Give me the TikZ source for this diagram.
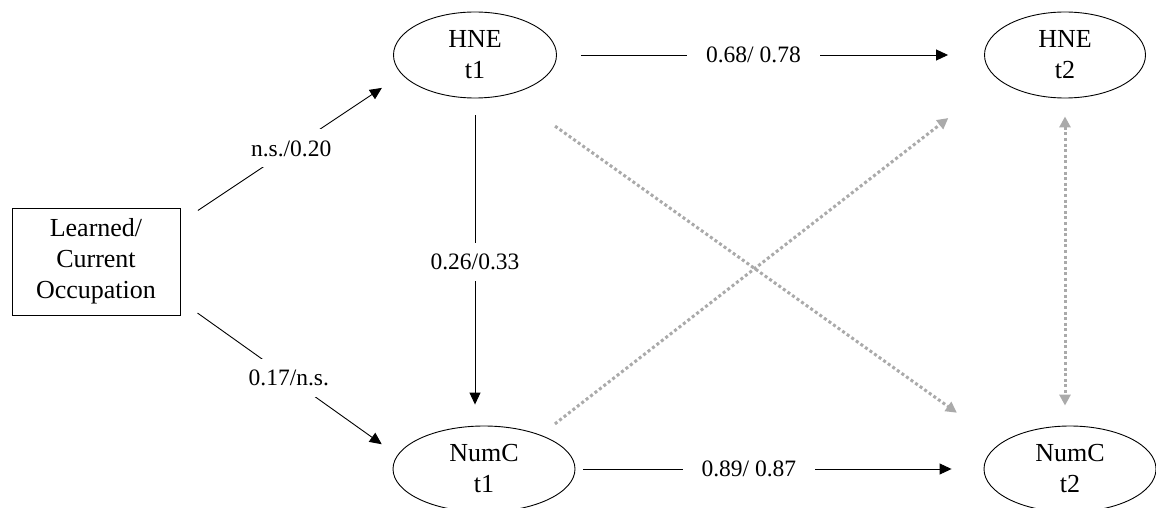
\documentclass[tikz,border=0pt]{standalone}
\usepackage{fontspec}
\setmainfont{Liberation Serif}
\usetikzlibrary{arrows.meta,shapes.geometric,calc}
\definecolor{dotgray}{RGB}{170,170,170}
\newcommand{\varfont}{\fontsize{26}{31}\selectfont}
\newcommand{\coeffont}{\fontsize{23.5}{28}\selectfont}

\begin{document}
\begin{tikzpicture}[x=1pt,y=-1pt,
    latent/.style={
      ellipse,
      draw,
      line width=0.9pt,
      inner sep=0pt,
      minimum height=86pt,
      align=center,
      font=\varfont},
    manifest/.style={
      rectangle,
      draw,
      line width=0.9pt,
      minimum width=168pt,
      minimum height=107pt,
      inner sep=0pt,
      align=center,
      font=\varfont},
    effect/.style={line width=0.9pt, -{Triangle[length=12pt,width=11pt]}},
    lagged/.style={
      draw=dotgray,
      line width=3pt,
      dash pattern=on 3pt off 2.6pt,
      -{Triangle[length=11pt,width=11pt]}},
    coef/.style={fill=white, inner xsep=19pt, inner ysep=11pt, font=\coeffont}
  ]
  \useasboundingbox (0,0) rectangle (1156,508);
  \node[manifest] (O) at (96,261.5) {Learned/\\Current\\Occupation};
  \node[latent,minimum width=163pt] (H1) at (475,55) {HNE\\t1};
  \node[latent,minimum width=161pt] (H2) at (1065,55) {HNE\\t2};
  \node[latent,minimum width=182pt] (N1) at (484,469) {NumC\\t1};
  \node[latent,minimum width=172pt] (N2) at (1070,469) {NumC\\t2};
  \draw[effect,shorten <=21pt,shorten >=24pt] (O.25) -- node[coef] {n.s./0.20} (H1.195);
  \draw[effect,shorten <=21pt,shorten >=19pt] (O.-25) -- node[coef] {0.17/n.s.} (N1.171);
  \draw[effect,shorten <=17pt,shorten >=21pt] (H1.south) -- node[coef] {0.26/0.33} (H1.south |- N1.north);
  \draw[effect,shorten <=24pt,shorten >=36pt] (H1.east) -- node[coef,pos=0.46] {0.68/ 0.78} (H2.west);
  \draw[effect,shorten <=8pt,shorten >=32pt] (N1.east) -- node[coef,pos=0.425] {0.89/ 0.87} (N2.west);
  \draw[lagged,shorten <=55pt,shorten >=53pt] (H1.-48) -- (N2.160);
  \draw[lagged,shorten <=18pt,shorten >=63pt] (N1.31) -- (H2.200);
  \draw[lagged,{Triangle[length=11pt,width=11pt]}-{Triangle[length=11pt,width=11pt]},shorten <=18pt,shorten >=20pt] (H2.south) -- (H2.south |- N2.north);
\end{tikzpicture}
\end{document}
